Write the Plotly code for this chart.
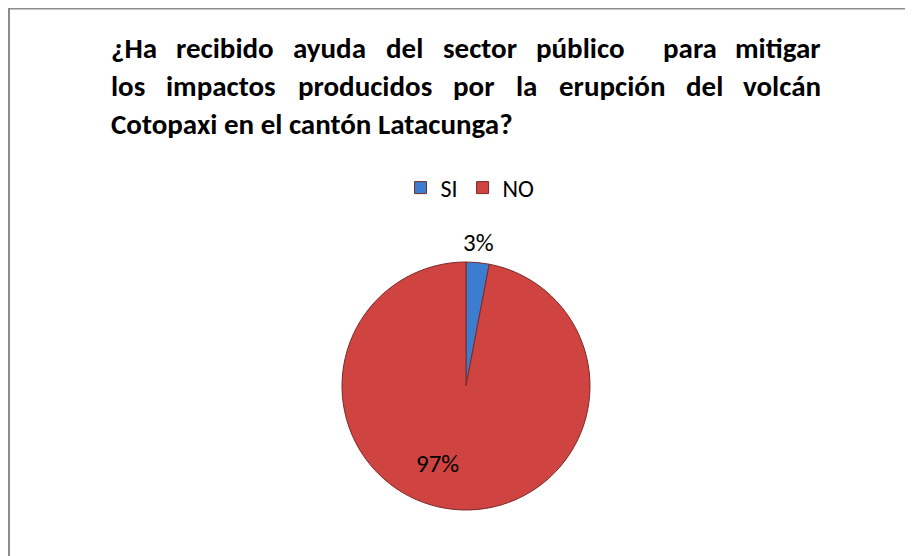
import plotly.graph_objects as go

categories = ["SI", "NO"]
values = [3, 97]
colors = ["#3C7DD0", "#CF4440"]
title_lines = [
    "¿Ha recibido ayuda del sector público  para mitigar",
    "los impactos producidos por la erupción del volcán",
    "Cotopaxi en el cantón Latacunga?",
]
justify = [True, True, False]

W, H = 913, 556
OX, OY = 8, 8  # page body margin offset
FONT = "Carlito, Calibri, 'Liberation Sans Narrow', 'Open Sans', sans-serif"
TSIZE = 29

# approximate Calibri Bold advance widths (em)
CW = {
    'a': .494, 'b': .537, 'c': .418, 'd': .537, 'e': .503, 'f': .316, 'g': .474, 'h': .537,
    'i': .246, 'j': .255, 'k': .480, 'l': .246, 'm': .813, 'n': .537, 'o': .538, 'p': .537,
    'q': .537, 'r': .355, 's': .399, 't': .347, 'u': .537, 'v': .473, 'w': .745, 'x': .459,
    'y': .474, 'z': .397, 'ú': .537, 'ó': .538, 'á': .494, '¿': .463, '?': .463,
    'H': .631, 'C': .529, 'L': .420, ' ': .226,
}


def tw(s):
    return sum(CW.get(ch, .5) for ch in s) * TSIZE


def px(x):
    return (x - OX) / W


def py(y):
    return 1 - (y - OY) / H


fig = go.Figure()
fig.add_trace(go.Pie(
    labels=categories,
    values=values,
    sort=False,
    direction="clockwise",
    rotation=0,
    marker=dict(colors=colors, line=dict(color="#7A2A28", width=1)),
    textinfo="none",
    domain=dict(x=[px(342), px(590)], y=[py(510), py(262)]),
    hoverinfo="label+percent",
))

annotations = []
LEFT, RIGHT = 110, 822
for i, line in enumerate(title_lines):
    yy = py(48 + 38 * i)
    if not justify[i]:
        annotations.append(dict(
            text="<b>" + line + "</b>", x=px(LEFT), y=yy,
            xref="paper", yref="paper", xanchor="left", yanchor="middle",
            showarrow=False, borderpad=0,
            font=dict(family=FONT, size=TSIZE, color="#000000"),
        ))
        continue
    words = line.split(" ")
    real = [w for w in words if w]
    nspaces = len(words) - 1
    total = sum(tw(w) for w in real)
    gap = (RIGHT - LEFT - total) / nspaces
    x = LEFT
    for j, w in enumerate(words):
        if w == "":
            x += gap
            continue
        last = (j == len(words) - 1)
        annotations.append(dict(
            text="<b>" + w + "</b>",
            x=px(RIGHT) if last else px(x), y=yy,
            xref="paper", yref="paper", xanchor="right" if last else "left",
            yanchor="middle", showarrow=False, borderpad=0,
            font=dict(family=FONT, size=TSIZE, color="#000000"),
        ))
        x += tw(w) + gap

# data labels
total_v = sum(values)
label_pos = [(478, 242), (437, 463)]
for v, (lx, ly) in zip(values, label_pos):
    annotations.append(dict(
        text=f"{round(100 * v / total_v)}%", x=px(lx), y=py(ly),
        xref="paper", yref="paper", xanchor="center", yanchor="middle",
        showarrow=False, font=dict(family=FONT, size=25, color="#000000"),
    ))

fig.update_layout(
    width=W, height=H,
    margin=dict(l=0, r=0, t=0, b=0),
    paper_bgcolor="white",
    plot_bgcolor="white",
    showlegend=True,
    legend=dict(
        orientation="h", x=px(470), y=py(188), xanchor="center", yanchor="middle",
        font=dict(family=FONT, size=24, color="#000000"),
        itemwidth=30,
    ),
    annotations=annotations,
    shapes=[
        dict(type="line", xref="paper", yref="paper", x0=0, x1=1, y0=py(8.5), y1=py(8.5),
             line=dict(color="#8C8C8C", width=2)),
        dict(type="line", xref="paper", yref="paper", x0=px(9), x1=px(9), y0=0, y1=py(8.5),
             line=dict(color="#8C8C8C", width=2)),
    ],
)

fig.write_html("out.html")
